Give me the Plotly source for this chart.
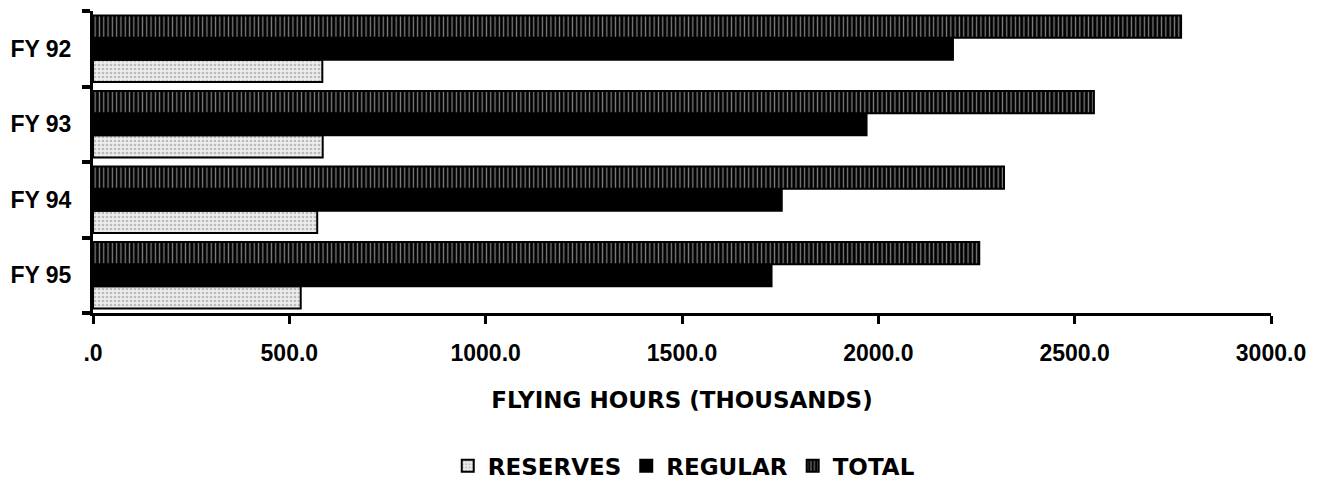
import plotly.graph_objects as go

categories = ["FY 92", "FY 93", "FY 94", "FY 95"]
reserves = [584, 585, 571, 529]
regular = [2190, 1970, 1754, 1728]
total = [2771, 2549, 2320, 2257]
tick_vals = [0, 500, 1000, 1500, 2000, 2500, 3000]
tick_text = [".0", "500.0", "1000.0", "1500.0", "2000.0", "2500.0", "3000.0"]

FONT = "Liberation Sans, Arial, sans-serif"
WIDE = "DejaVu Sans, Liberation Sans, sans-serif"

fig = go.Figure()
fig.add_trace(go.Bar(
    y=categories, x=reserves, orientation="h", name="RESERVES",
    marker=dict(color="#e6e6e6", line=dict(color="black", width=2),
                pattern=dict(shape=".", fgcolor="#8a8a8a", bgcolor="#ececec", size=4, solidity=0.35)),
))
fig.add_trace(go.Bar(
    y=categories, x=regular, orientation="h", name="REGULAR",
    marker=dict(color="black", line=dict(color="black", width=2)),
))
fig.add_trace(go.Bar(
    y=categories, x=total, orientation="h", name="TOTAL",
    marker=dict(color="black", line=dict(color="black", width=2),
                pattern=dict(shape="|", fgcolor="white", bgcolor="black", size=4.3, solidity=0.3)),
))

fig.update_layout(
    width=1325, height=483,
    margin=dict(l=85, r=62, t=3, b=178, autoexpand=False),
    paper_bgcolor="white", plot_bgcolor="white",
    barmode="group", bargap=0.12, bargroupgap=0,
    font=dict(family=FONT, size=23, color="black", weight="bold"),
    showlegend=True,
    legend=dict(orientation="h", xref="container", yref="container",
                x=0.51, xanchor="center", y=0.052, yanchor="middle",
                font=dict(family=WIDE, size=23, color="black", weight="bold"),
                itemwidth=30, tracegroupgap=0),
)
fig.update_xaxes(
    range=[0, 3000], tickvals=tick_vals, ticktext=tick_text,
    showline=True, linecolor="black", linewidth=3,
    ticks="outside", ticklen=8, tickwidth=3, tickcolor="black",
    showgrid=False, zeroline=False, ticklabelstandoff=9, automargin=False,
    tickfont=dict(family=FONT, size=23, color="black", weight="bold"),
    title=dict(text="FLYING HOURS (THOUSANDS)", standoff=28,
               font=dict(family=WIDE, size=23, color="black", weight="bold")),
)
fig.update_yaxes(
    categoryorder="array", categoryarray=categories[::-1],
    showline=True, linecolor="black", linewidth=3,
    ticks="outside", ticklen=8, tickwidth=4, tickcolor="black", tickson="boundaries",
    showgrid=False, zeroline=False, ticklabelstandoff=14, automargin=False,
    tickfont=dict(family=FONT, size=23, color="black", weight="bold"),
)

fig.write_html("out.html")
